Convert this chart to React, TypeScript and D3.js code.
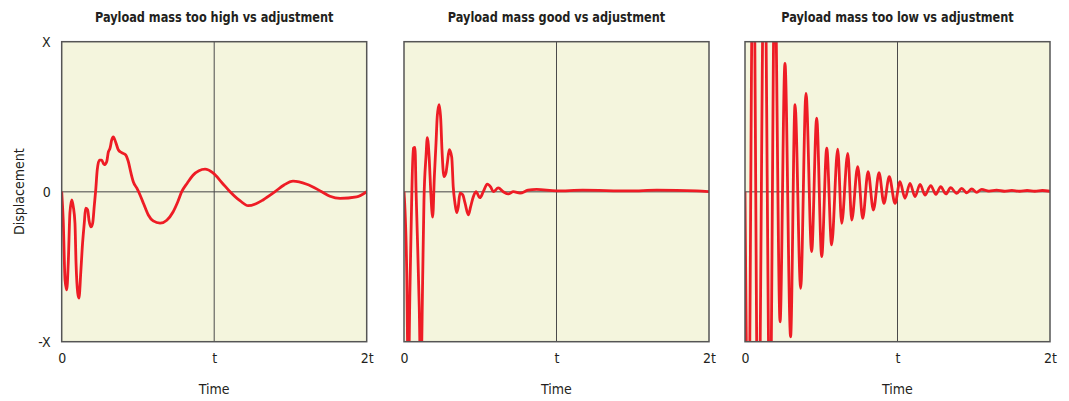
import React, { useEffect, useRef } from 'react';
import * as d3 from 'd3';

// [time in units of t, displacement in units of X]
const highMassPoints: [number, number][] = [
  [0, 0], [0.010, -0.19], [0.022, -0.59], [0.033, -0.655], [0.043, -0.475], [0.054, -0.14],
  [0.066, -0.055], [0.076, -0.10], [0.087, -0.21], [0.094, -0.475], [0.105, -0.675], [0.113, -0.71],
  [0.125, -0.54], [0.135, -0.37], [0.148, -0.21], [0.157, -0.11], [0.170, -0.12], [0.179, -0.19],
  [0.192, -0.235], [0.203, -0.21], [0.214, -0.09], [0.223, 0.01], [0.233, 0.145], [0.247, 0.21],
  [0.262, 0.21], [0.279, 0.18], [0.295, 0.20], [0.306, 0.265], [0.317, 0.29], [0.328, 0.345],
  [0.338, 0.365], [0.354, 0.33], [0.371, 0.28], [0.393, 0.26], [0.420, 0.245], [0.437, 0.20],
  [0.454, 0.125], [0.470, 0.065], [0.492, 0.025], [0.513, -0.02], [0.535, -0.075], [0.568, -0.155],
  [0.600, -0.195], [0.645, -0.21], [0.689, -0.19], [0.730, -0.135], [0.760, -0.07], [0.787, 0],
  [0.825, 0.06], [0.861, 0.11], [0.900, 0.14], [0.940, 0.15], [0.992, 0.125], [1.051, 0.06],
  [1.104, 0], [1.169, -0.06], [1.222, -0.093], [1.274, -0.08], [1.320, -0.055], [1.399, 0],
  [1.458, 0.045], [1.517, 0.07], [1.607, 0.05], [1.705, 0], [1.759, -0.03], [1.825, -0.045],
  [1.934, -0.035], [2.0, 0],
];

const goodMassPoints: [number, number][] = [
  [0, 0], [0.018, -0.54], [0.028, -1.3], [0.039, -0.655], [0.050, -0.075], [0.061, 0.29],
  [0.072, 0.295], [0.079, 0.01], [0.087, -0.275], [0.100, -0.77], [0.110, -1.3], [0.123, -0.54],
  [0.131, -0.055], [0.144, 0.23], [0.153, 0.36], [0.166, 0.21], [0.175, 0.01], [0.188, -0.17],
  [0.199, 0.10], [0.210, 0.325], [0.218, 0.50], [0.230, 0.58], [0.241, 0.48], [0.249, 0.28],
  [0.262, 0.10], [0.275, 0.125], [0.284, 0.19], [0.297, 0.28], [0.313, 0.23], [0.323, 0.03],
  [0.334, -0.075], [0.346, -0.14], [0.356, -0.10], [0.367, -0.01], [0.385, -0.02], [0.400, -0.075],
  [0.422, -0.155], [0.437, -0.10], [0.454, -0.035], [0.472, 0], [0.498, -0.04], [0.520, 0],
  [0.546, 0.05], [0.569, 0.03], [0.586, 0], [0.618, 0.025], [0.651, 0], [0.684, -0.015],
  [0.717, 0], [0.761, -0.01], [0.813, 0.01], [0.870, 0.015], [1.0, 0.005], [1.172, 0.01],
  [1.48, 0.005], [1.657, 0.01], [1.92, 0.005], [2.0, 0],
];

const lowMassPoints: [number, number][] = [
  [0, 0], [0.022, -1.8], [0.054, 1.9], [0.087, -1.9], [0.127, 1.8], [0.164, -1.6], [0.195, 1.5],
  [0.230, -0.867], [0.262, 0.856], [0.299, -0.967], [0.328, 0.58], [0.365, -0.644], [0.400, 0.656],
  [0.437, -0.40], [0.470, 0.49], [0.503, -0.433], [0.536, 0.29], [0.568, -0.355], [0.608, 0.283],
  [0.634, -0.211], [0.674, 0.256], [0.700, -0.189], [0.739, 0.167], [0.772, -0.178], [0.807, 0.133],
  [0.842, -0.122], [0.879, 0.127], [0.911, -0.078], [0.946, 0.10], [0.984, -0.078], [1.016, 0.067],
  [1.049, -0.044], [1.082, 0.056], [1.115, -0.033], [1.148, 0.049], [1.180, -0.022], [1.218, 0.04],
  [1.252, -0.018], [1.283, 0.033], [1.318, -0.015], [1.348, 0.027], [1.388, -0.011], [1.421, 0.022],
  [1.454, -0.007], [1.487, 0.018], [1.520, -0.004], [1.552, 0.016], [1.60, 0.004], [1.65, 0.01],
  [1.70, 0.003], [1.75, 0.009], [1.80, 0.003], [1.85, 0.008], [1.90, 0.003], [1.95, 0.008], [2.0, 0.003],
];

const panelTitles = [
  'Payload mass too high vs adjustment',
  'Payload mass good vs adjustment',
  'Payload mass too low vs adjustment',
];
const xTickValues = [0, 1, 2];
const xTickLabels = ['0', 't', '2t'];
const yTickValues = [-1, 0, 1];
const yTickLabels = ['-X', '0', 'X'];

const App = () => {
  const svgRef = useRef<SVGSVGElement>(null);

  useEffect(() => {
    const width = 1069;
    const height = 401;
    const top = 41.7;
    const bottom = 341.7;
    const lefts = [61.7, 404, 745];
    const plotW = 305;
    const font = "'Liberation Sans Narrow', 'Arial Narrow', 'DejaVu Sans Condensed', sans-serif";

    const svg = d3.select(svgRef.current).attr('width', width).attr('height', height);
    svg.selectAll('*').remove();

    const series = [highMassPoints, goodMassPoints, lowMassPoints];
    const y = d3.scaleLinear().domain([-1, 1]).range([bottom, top]);

    series.forEach((pts, i) => {
      const x = d3.scaleLinear().domain([0, 2]).range([lefts[i], lefts[i] + plotW]);
      const g = svg.append('g');

      g.append('rect')
        .attr('x', x(0)).attr('y', top)
        .attr('width', plotW).attr('height', bottom - top)
        .attr('fill', '#f4f5dd');

      g.append('line')
        .attr('x1', x(0)).attr('x2', x(2)).attr('y1', y(0)).attr('y2', y(0))
        .attr('stroke', '#7f7f78').attr('stroke-width', 1.5);
      g.append('line')
        .attr('x1', x(1)).attr('x2', x(1)).attr('y1', top).attr('y2', bottom)
        .attr('stroke', '#4a4a4a').attr('stroke-width', 1);

      const clipId = `clip-${i}`;
      g.append('clipPath').attr('id', clipId)
        .append('rect')
        .attr('x', x(0)).attr('y', top)
        .attr('width', plotW).attr('height', bottom - top);

      const line = d3.line<[number, number]>()
        .x(d => x(d[0]))
        .y(d => y(d[1]))
        .curve(d3.curveMonotoneX);

      g.append('path')
        .datum(pts)
        .attr('clip-path', `url(#${clipId})`)
        .attr('d', line)
        .attr('fill', 'none')
        .attr('stroke', '#ee1c25')
        .attr('stroke-width', 2.8)
        .attr('stroke-linejoin', 'round');

      g.append('rect')
        .attr('x', x(0)).attr('y', top)
        .attr('width', plotW).attr('height', bottom - top)
        .attr('fill', 'none')
        .attr('stroke', '#555')
        .attr('stroke-width', 1.5);

      // title, squeezed horizontally to mimic a condensed face
      g.append('text')
        .attr('transform', `translate(${x(1)},22) scale(0.9,1)`)
        .attr('text-anchor', 'middle')
        .style('font-family', font)
        .style('font-weight', 'bold')
        .style('font-size', '14px')
        .style('fill', '#231f20')
        .text(panelTitles[i]);

      const xAxis = d3.axisBottom(x)
        .tickValues(xTickValues)
        .tickFormat((d, k) => xTickLabels[k])
        .tickSize(0)
        .tickPadding(11);
      const xg = g.append('g').attr('transform', `translate(0,${bottom})`).call(xAxis);
      xg.select('.domain').remove();
      xg.selectAll('text')
        .style('font-family', font)
        .style('font-size', '14px')
        .style('fill', '#231f20');

      g.append('text')
        .attr('x', x(1)).attr('y', 394)
        .attr('text-anchor', 'middle')
        .style('font-family', font)
        .style('font-size', '14px')
        .style('fill', '#231f20')
        .text('Time');

      if (i === 0) {
        const yAxis = d3.axisLeft(y)
          .tickValues(yTickValues)
          .tickFormat((d, k) => yTickLabels[k])
          .tickSize(0)
          .tickPadding(11);
        const yg = g.append('g').attr('transform', `translate(${x(0)},0)`).call(yAxis);
        yg.select('.domain').remove();
        yg.selectAll('text')
          .style('font-family', font)
          .style('font-size', '14px')
          .style('fill', '#231f20');

        g.append('text')
          .attr('transform', `translate(24,${y(0)}) rotate(-90)`)
          .attr('text-anchor', 'middle')
          .style('font-family', font)
          .style('font-size', '14px')
          .style('fill', '#231f20')
          .text('Displacement');
      }
    });
  }, []);

  return (
    <div style={{ position: 'absolute', left: 0, top: 0 }}>
      <svg ref={svgRef} style={{ display: 'block' }}></svg>
    </div>
  );
};

export default App;
